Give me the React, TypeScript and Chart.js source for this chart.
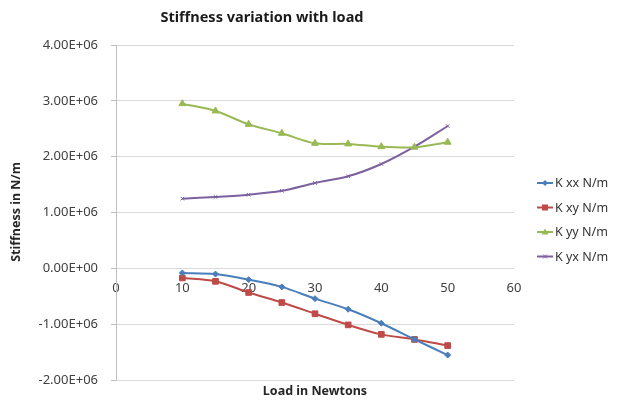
import React, { useEffect, useRef } from "react";
import { Chart, registerables } from "chart.js";

Chart.register(...registerables);

const loads = [10, 15, 20, 25, 30, 35, 40, 45, 50];
const kxx = [-0.08e6, -0.1e6, -0.2e6, -0.33e6, -0.54e6, -0.73e6, -0.98e6, -1.27e6, -1.55e6];
const kxy = [-0.17e6, -0.23e6, -0.43e6, -0.61e6, -0.81e6, -1.01e6, -1.18e6, -1.27e6, -1.38e6];
const kyy = [2.95e6, 2.82e6, 2.58e6, 2.42e6, 2.24e6, 2.23e6, 2.18e6, 2.17e6, 2.26e6];
const kyx = [1.25e6, 1.28e6, 1.32e6, 1.39e6, 1.53e6, 1.65e6, 1.87e6, 2.18e6, 2.55e6];

const seriesNames = ["K xx N/m", "K xy N/m", "K yy N/m", "K yx N/m"];
const seriesColors = ["#4A7EBB", "#BE4B48", "#98B954", "#7D60A0"];
const seriesMarkers = ["rectRot", "rect", "triangle", "crossRot"];

const chartTitle = "Stiffness variation with load";
const xTitle = "Load in Newtons";
const yTitle = "Stiffness in N/m";

const FONT = "'Noto Sans', 'Open Sans', sans-serif";

function fmtExp(v: number): string {
  const s = v.toExponential(2);
  const [m, e] = s.split("e");
  const sign = e[0] === "-" ? "-" : "+";
  const digits = e.replace(/[+-]/, "").padStart(2, "0");
  return `${m}E${sign}${digits}`;
}

function drawMarker(ctx: CanvasRenderingContext2D, kind: string, x: number, y: number, color: string) {
  ctx.save();
  ctx.fillStyle = color;
  ctx.strokeStyle = color;
  ctx.lineWidth = 1;
  ctx.beginPath();
  if (kind === "rectRot") {
    ctx.moveTo(x, y - 3);
    ctx.lineTo(x + 3, y);
    ctx.lineTo(x, y + 3);
    ctx.lineTo(x - 3, y);
    ctx.closePath();
    ctx.fill();
  } else if (kind === "rect") {
    ctx.rect(x - 3, y - 3, 6, 6);
    ctx.fill();
  } else if (kind === "triangle") {
    ctx.moveTo(x, y - 3.5);
    ctx.lineTo(x + 3.5, y + 2.5);
    ctx.lineTo(x - 3.5, y + 2.5);
    ctx.closePath();
    ctx.fill();
  } else {
    ctx.moveTo(x - 2, y - 2);
    ctx.lineTo(x + 2, y + 2);
    ctx.moveTo(x + 2, y - 2);
    ctx.lineTo(x - 2, y + 2);
    ctx.stroke();
  }
  ctx.restore();
}

const decorPlugin = {
  id: "decor",
  afterDraw(chart: any) {
    const ctx: CanvasRenderingContext2D = chart.ctx;
    const area = chart.chartArea;
    ctx.save();
    ctx.fillStyle = "#1a1a1a";
    ctx.font = `bold 14.5px ${FONT}`;
    ctx.textAlign = "center";
    ctx.textBaseline = "middle";
    ctx.fillText(chartTitle, 262, 18);
    ctx.fillStyle = "#262626";
    ctx.font = `bold 12.5px ${FONT}`;
    ctx.fillText(xTitle, (area.left + area.right) / 2, 391);
    ctx.save();
    ctx.translate(16, 212);
    ctx.rotate(-Math.PI / 2);
    ctx.fillText(yTitle, 0, 0);
    ctx.restore();
    ctx.font = `12.5px ${FONT}`;
    ctx.textAlign = "left";
    const rowY = [183, 207.5, 232, 256.5];
    seriesNames.forEach((name, i) => {
      const y = rowY[i];
      ctx.strokeStyle = seriesColors[i];
      ctx.lineWidth = 2;
      ctx.beginPath();
      ctx.moveTo(537, y);
      ctx.lineTo(553, y);
      ctx.stroke();
      drawMarker(ctx, seriesMarkers[i], 545, y, seriesColors[i]);
      ctx.fillStyle = "#333333";
      ctx.fillText(name, 555, y + 0.5);
    });
    ctx.restore();
  },
};

export default function App() {
  const ref = useRef<HTMLCanvasElement | null>(null);
  useEffect(() => {
    if (!ref.current) return;
    const series = [kxx, kxy, kyy, kyx];
    const chart = new Chart(ref.current, {
      type: "line",
      data: {
        datasets: series.map((vals, i) => ({
          label: seriesNames[i],
          data: loads.map((x, j) => ({ x, y: vals[j] })),
          borderColor: seriesColors[i],
          backgroundColor: seriesColors[i],
          borderWidth: 2,
          pointStyle: seriesMarkers[i] as any,
          pointRadius: i === 0 ? 3 : i === 3 ? 2.5 : 4,
          pointBorderWidth: 1,
          tension: 0.3,
          fill: false,
        })),
      },
      options: {
        responsive: false,
        animation: false,
        layout: { padding: { left: 0, right: 105, top: 45, bottom: 20 } },
        plugins: {
          legend: { display: false },
          title: { display: false },
          tooltip: { enabled: false },
        },
        scales: {
          x: {
            type: "linear",
            position: { y: 0 } as any,
            min: 0,
            max: 60,
            ticks: {
              stepSize: 10,
              padding: 12,
              color: "#404040",
              font: { family: FONT, size: 13 },
              maxRotation: 0,
              autoSkip: false,
            },
            grid: { display: false, drawTicks: false },
            border: { display: false },
          },
          y: {
            type: "linear",
            min: -2e6,
            max: 4e6,
            afterFit: (scale: any) => {
              scale.width = 116;
            },
            ticks: {
              stepSize: 1e6,
              padding: 13,
              color: "#404040",
              font: { family: FONT, size: 13 },
              callback: (v: any) => fmtExp(Number(v)),
            },
            grid: { color: "#D9D9D9", lineWidth: 1, tickLength: 5, drawTicks: true, tickColor: "#BFBFBF" },
            border: { display: true, color: "#BFBFBF" },
          },
        },
      },
      plugins: [decorPlugin],
    });
    return () => chart.destroy();
  }, []);
  return (
    <div style={{ position: "fixed", left: 0, top: 0, width: 619, height: 401, background: "#fff" }}>
      <canvas ref={ref} width={619} height={401} />
    </div>
  );
}
